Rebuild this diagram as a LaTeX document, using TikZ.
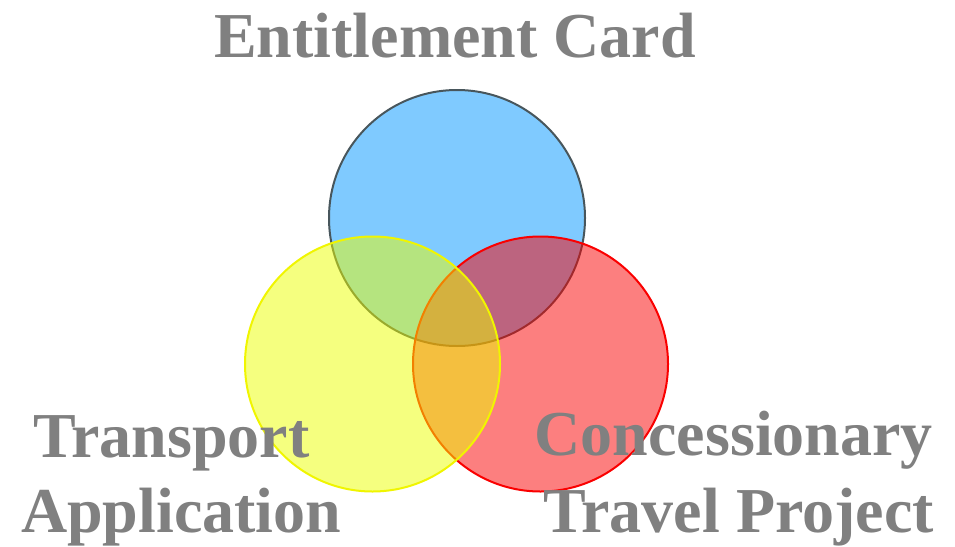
\documentclass[tikz,border=0pt]{standalone}
\usepackage{fontspec}
\setmainfont{Liberation Serif}
\definecolor{setblue}{RGB}{0,149,255}
\definecolor{setbluerim}{RGB}{72,86,92}
\definecolor{setyellow}{RGB}{236,255,0}
\definecolor{setyellowrim}{RGB}{240,245,0}
\definecolor{setred}{RGB}{250,0,0}
\definecolor{labelgray}{RGB}{128,128,128}
\begin{document}
\begin{tikzpicture}[x=1pt,y=-1pt,
  setcircle/.style={circle,inner sep=0pt,line width=2pt,fill opacity=0.5,draw opacity=1},
  biglabel/.style={inner sep=0pt,text=labelgray,font=\bfseries\fontsize{64}{75}\selectfont}]
\useasboundingbox (0,0) rectangle (955,546);
% the three sets, drawn blue, red, yellow so that the blends come out right
\node[setcircle,minimum size=256pt,fill=setblue,draw=setbluerim] (card) at (457,218) {};
\node[setcircle,minimum size=255pt,fill=setred,draw=setred] (travel) at (540.5,364) {};
\node[setcircle,minimum size=255pt,fill=setyellow,draw=setyellowrim] (transport) at (372.5,364) {};
% set labels
\node[biglabel,anchor=base] (cardlabel) at (455,57) {Entitlement Card};
\node[biglabel,anchor=base west] (transportA) at (33,457) {Transport};
\node[biglabel,anchor=base west] (transportB) at (21,532) {Application};
\node[biglabel,anchor=base east] (travelA) at (933,455) {Concessionary};
\node[biglabel,anchor=base east] (travelB) at (934,532) {Travel Project};
\end{tikzpicture}
\end{document}
